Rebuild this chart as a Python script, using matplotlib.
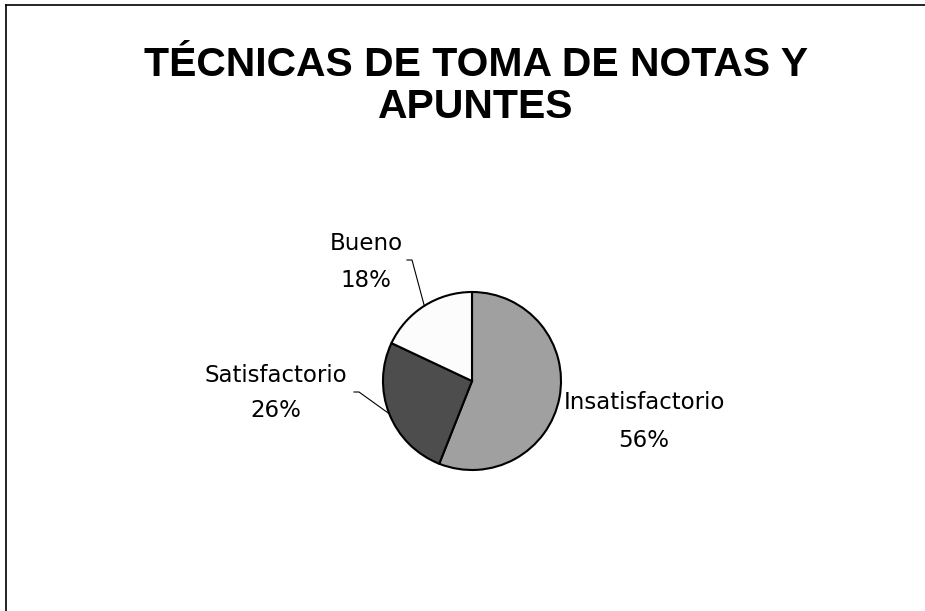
import matplotlib
matplotlib.use("Agg")
import matplotlib.pyplot as plt
from matplotlib.lines import Line2D
import numpy as np

# datos del grafico
categorias = ['Insatisfactorio', 'Satisfactorio', 'Bueno']
porcentajes = [56, 26, 18]
colores = ['#A0A0A0', '#4D4D4D', '#FCFCFC']
titulo = 'TÉCNICAS DE TOMA DE NOTAS Y\nAPUNTES'

W, H = 925, 611
fig = plt.figure(figsize=(W / 100, H / 100), dpi=100)

# centro y radio de la torta en pixeles
cx, cy, r = 472, 381, 89
# ejes de 6x6 unidades con radio 1 -> 89 px
lado = 6 * r
ax = fig.add_axes([(cx - lado / 2) / W, (H - cy - lado / 2) / H, lado / W, lado / H])

wedges, _ = ax.pie(porcentajes, colors=colores, startangle=90, counterclock=False,
                   radius=1, wedgeprops=dict(edgecolor='black', linewidth=1.5))
# pie() cambia los limites, hay que fijarlos despues
ax.set_xlim(-3, 3)
ax.set_ylim(-3, 3)
ax.set_aspect('equal')
ax.axis('off')


def px(x, y):
    return (x - cx) / r, (cy - y) / r


# posiciones de las etiquetas (pixeles, linea base)
pos_etiquetas = [(644, 409, 447), (276, 382, 417), (366, 250, 287)]
# codo de las lineas guia (pixeles)
codos = [None, [(354, 392), (359, 392)], [(407, 260), (412, 260)]]

fuente = 'DejaVu Sans'
for w, cat, p, (x, y1, y2), codo in zip(wedges, categorias, porcentajes, pos_etiquetas, codos):
    tx, ty = px(x, y1)
    ax.text(tx, ty, cat, ha='center', va='baseline', fontsize=16.5, family=fuente, clip_on=False)
    tx, ty = px(x, y2)
    ax.text(tx, ty, f'{p}%', ha='center', va='baseline', fontsize=16.5, family=fuente, clip_on=False)
    if codo is not None:
        ang = np.deg2rad((w.theta1 + w.theta2) / 2)
        xs = [px(*c)[0] for c in codo] + [np.cos(ang)]
        ys = [px(*c)[1] for c in codo] + [np.sin(ang)]
        ax.plot(xs, ys, color='black', linewidth=0.8, clip_on=False)

fig.text(476 / W, 1 - 86 / H, titulo, ha='center', va='center', fontsize=29.4,
         fontweight='bold', family='Liberation Sans', linespacing=1.15)

# borde del area del grafico (solo izquierda y arriba visibles)
fig.add_artist(Line2D([5.5 / W, 5.5 / W], [0, 1 - 4.5 / H], color='black', linewidth=1.2))
fig.add_artist(Line2D([5.5 / W, 1], [1 - 4.5 / H, 1 - 4.5 / H], color='black', linewidth=1.2))

fig.savefig('out.png', dpi=100)
